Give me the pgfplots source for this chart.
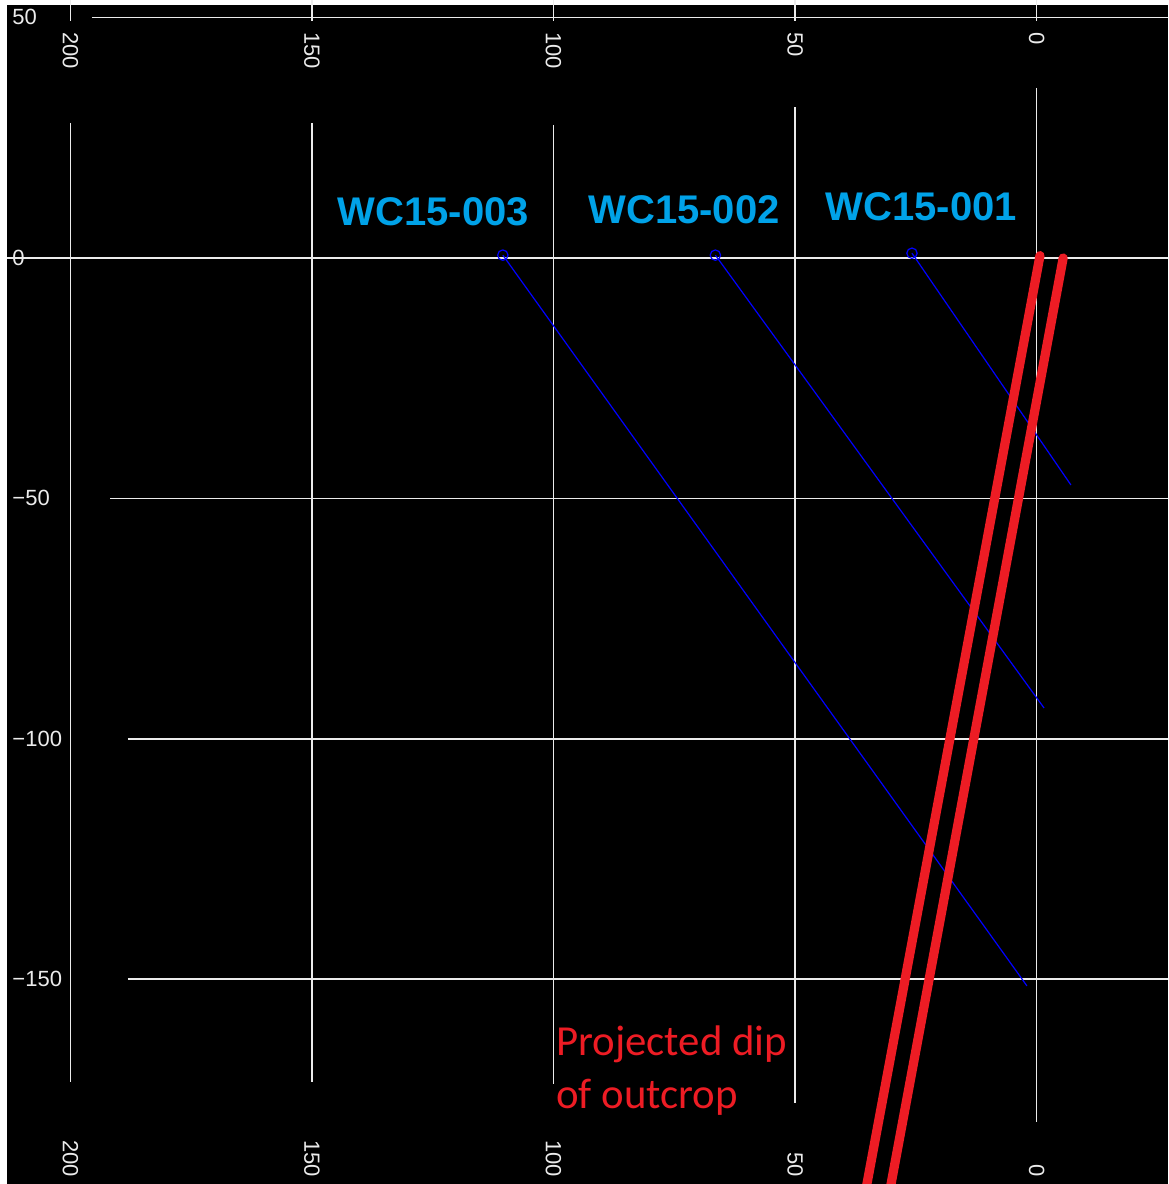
\documentclass[border=0pt]{standalone}
\usepackage{fontspec}
\setmainfont{Liberation Sans}
\newfontfamily\calibri{Carlito}
\usepackage{pgfplots}
\pgfplotsset{compat=1.18}
\definecolor{gridc}{RGB}{235,235,235}
\definecolor{holelbl}{RGB}{0,162,232}
\definecolor{dipred}{RGB}{237,28,36}
\definecolor{holeblue}{RGB}{0,0,255}
\begin{document}
\begin{tikzpicture}
\useasboundingbox (0,0) rectangle (584pt,592pt);
\clip (0,0) rectangle (584pt,592pt);
\fill[white] (0,0) rectangle (584pt,592pt);
\fill[black] (3.5pt,0) rectangle (584pt,589.5pt);
\begin{axis}[at={(0,0)}, anchor=south west, scale only axis,
  width=584pt, height=592pt, x dir=reverse,
  xmin=-27.2, xmax=214.6, ymin=-192.6, ymax=53.67,
  hide axis, clip=false]
% vertical grid segments
\addplot[gridc, line width=0.75pt] coordinates {(200,53.7) (200,49.4)};
\addplot[gridc, line width=0.75pt] coordinates {(150,53.7) (150,49.4)};
\addplot[gridc, line width=0.75pt] coordinates {(100,53.7) (100,49.4)};
\addplot[gridc, line width=0.75pt] coordinates {(50,53.7) (50,49.4)};
\addplot[gridc, line width=0.75pt] coordinates {(0,53.7) (0,49.4)};
\addplot[gridc, line width=0.75pt] coordinates {(200,28.1) (200,-171.4)};
\addplot[gridc, line width=0.75pt] coordinates {(150,28.1) (150,-171.4)};
\addplot[gridc, line width=0.75pt] coordinates {(100,27.7) (100,-171.8)};
\addplot[gridc, line width=0.75pt] coordinates {(50,31.4) (50,-175.8)};
\addplot[gridc, line width=0.75pt] coordinates {(0,35.4) (0,-179.7)};
% horizontal grid segments
\addplot[gridc, line width=0.75pt] coordinates {(195.6,50) (-27.2,50)};
\addplot[gridc, line width=0.75pt] coordinates {(213.1,0) (-27.2,0)};
\addplot[gridc, line width=0.75pt] coordinates {(191.8,-50) (-27.2,-50)};
\addplot[gridc, line width=0.75pt] coordinates {(188.1,-100) (-27.2,-100)};
\addplot[gridc, line width=0.75pt] coordinates {(188.1,-150) (-27.2,-150)};
% drill holes
\addplot[holeblue, line width=0.6pt] coordinates {(110.5,0.6) (2.0,-151.4)};
\addplot[holeblue, line width=0.6pt] coordinates {(66.5,0.6) (-1.55,-93.6)};
\addplot[holeblue, line width=0.6pt] coordinates {(25.8,1.0) (-7.1,-47.2)};
\addplot[holeblue, only marks, mark=o, mark size=2.6pt, mark options={line width=0.6pt}] coordinates {(110.5,0.6) (66.5,0.6) (25.8,1.0)};
% projected dip of outcrop
\addplot[dipred, line width=4.6pt, line cap=round] coordinates {(-0.7,0.5) (36.5,-200)};
\addplot[dipred, line width=4.6pt, line cap=round] coordinates {(-5.5,0) (31.5,-200)};
% tick labels
\begin{scope}[every node/.style={text=gridc, inner sep=0pt, font=\fontsize{11}{13}\selectfont}]
\node[rotate=-90, anchor=west] at (axis cs:200,47.0) {200};
\node[rotate=-90, anchor=west] at (axis cs:150,47.0) {150};
\node[rotate=-90, anchor=west] at (axis cs:100,47.0) {100};
\node[rotate=-90, anchor=west] at (axis cs:50,47.0) {50};
\node[rotate=-90, anchor=west] at (axis cs:0,47.0) {0};
\node[rotate=-90, anchor=east] at (axis cs:200,-191.2) {200};
\node[rotate=-90, anchor=east] at (axis cs:150,-191.2) {150};
\node[rotate=-90, anchor=east] at (axis cs:100,-191.2) {100};
\node[rotate=-90, anchor=east] at (axis cs:50,-191.2) {50};
\node[rotate=-90, anchor=east] at (axis cs:0,-191.2) {0};
\node[anchor=west] at (axis cs:212.1,50.1) {50};
\node[anchor=west] at (axis cs:212.1,0) {0};
\node[anchor=west] at (axis cs:212.1,-50) {−50};
\node[anchor=west] at (axis cs:212.1,-100) {−100};
\node[anchor=west] at (axis cs:212.1,-150) {−150};
\end{scope}
% hole labels
\begin{scope}[every node/.style={text=holelbl, inner sep=0pt, font=\bfseries\fontsize{20}{24}\selectfont}]
\node at (axis cs:124.9,9.6) {WC15-003};
\node at (axis cs:73.0,10.0) {WC15-002};
\node at (axis cs:23.9,10.6) {WC15-001};
\end{scope}
\node[text=dipred, anchor=base west, inner sep=0pt, font=\calibri\fontsize{21.4}{26}\selectfont] at (axis cs:99.5,-165.8) {Projected dip};
\node[text=dipred, anchor=base west, inner sep=0pt, font=\calibri\fontsize{21.4}{26}\selectfont] at (axis cs:99.5,-176.8) {of outcrop};
\end{axis}
\end{tikzpicture}
\end{document}
